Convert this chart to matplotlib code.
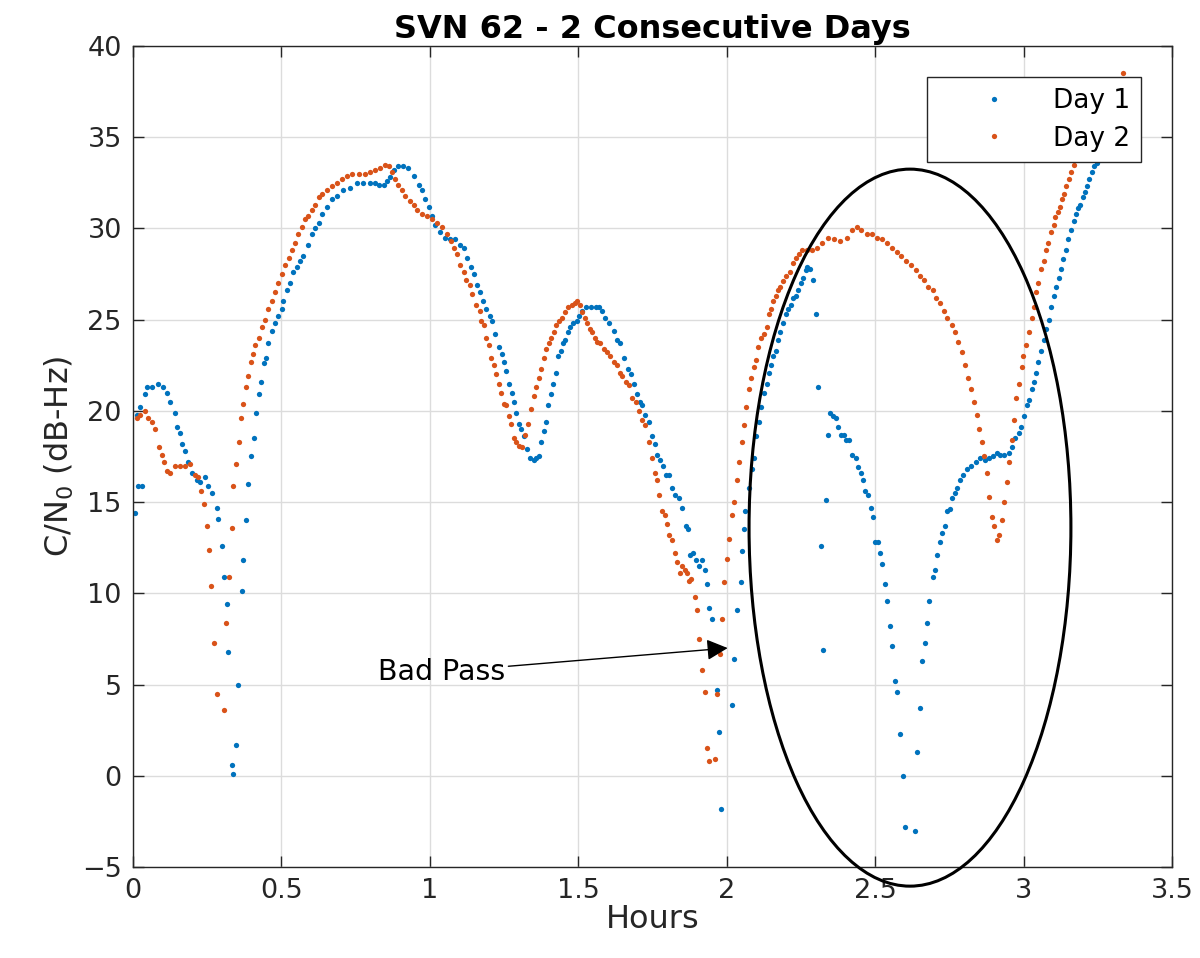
import matplotlib
matplotlib.use("Agg")
import matplotlib.pyplot as plt
from matplotlib.patches import Ellipse

# Day 1 (blue) - hours, C/N0 in dB-Hz
day1_t = [0.007, 0.012, 0.018, 0.024, 0.029, 0.040, 0.046, 0.063, 0.085, 0.100,
          0.114, 0.125, 0.142, 0.147, 0.158, 0.164, 0.175, 0.186, 0.198, 0.215,
          0.226, 0.243, 0.254, 0.265, 0.282, 0.288, 0.299, 0.305, 0.316, 0.321,
          0.333, 0.338, 0.347, 0.355, 0.366, 0.372, 0.380, 0.389, 0.397, 0.406,
          0.414, 0.423, 0.432, 0.440, 0.448, 0.456, 0.468, 0.479, 0.490, 0.501,
          0.507, 0.518, 0.529, 0.540, 0.552, 0.563, 0.574, 0.591, 0.602, 0.614,
          0.625, 0.636, 0.653, 0.670, 0.687, 0.709, 0.732, 0.754, 0.776, 0.799,
          0.816, 0.827, 0.844, 0.855, 0.866, 0.878, 0.894, 0.911, 0.928, 0.945,
          0.962, 0.973, 0.984, 0.996, 1.007, 1.018, 1.035, 1.052, 1.069, 1.086,
          1.102, 1.114, 1.125, 1.139, 1.150, 1.159, 1.170, 1.179, 1.190, 1.201,
          1.209, 1.220, 1.234, 1.243, 1.248, 1.258, 1.267, 1.277, 1.282, 1.291,
          1.300, 1.308, 1.316, 1.327, 1.336, 1.350, 1.359, 1.366, 1.375, 1.383,
          1.391, 1.398, 1.407, 1.416, 1.425, 1.432, 1.440, 1.447, 1.456, 1.464,
          1.473, 1.482, 1.494, 1.501, 1.513, 1.527, 1.541, 1.558, 1.569, 1.580,
          1.591, 1.603, 1.619, 1.630, 1.642, 1.653, 1.667, 1.676, 1.687, 1.698,
          1.709, 1.715, 1.723, 1.737, 1.749, 1.757, 1.766, 1.775, 1.786, 1.794,
          1.805, 1.816, 1.827, 1.839, 1.850, 1.861, 1.869, 1.875, 1.887, 1.897,
          1.908, 1.915, 1.925, 1.932, 1.940, 1.949, 1.966, 1.973, 1.981, 2.016,
          2.024, 2.034, 2.047, 2.052, 2.058, 2.063, 2.075, 2.084, 2.091, 2.100,
          2.108, 2.116, 2.125, 2.134, 2.142, 2.150, 2.157, 2.165, 2.172, 2.180,
          2.190, 2.198, 2.207, 2.215, 2.223, 2.232, 2.241, 2.249, 2.258, 2.266,
          2.271, 2.279, 2.292, 2.302, 2.307, 2.316, 2.325, 2.333, 2.341, 2.348,
          2.358, 2.368, 2.375, 2.384, 2.395, 2.403, 2.412, 2.421, 2.434, 2.442,
          2.451, 2.459, 2.466, 2.476, 2.485, 2.493, 2.500, 2.509, 2.516, 2.524,
          2.532, 2.541, 2.550, 2.558, 2.566, 2.572, 2.584, 2.592, 2.600, 2.633,
          2.641, 2.651, 2.659, 2.667, 2.675, 2.681, 2.693, 2.701, 2.708, 2.717,
          2.726, 2.734, 2.743, 2.752, 2.760, 2.768, 2.777, 2.786, 2.797, 2.808,
          2.822, 2.839, 2.853, 2.869, 2.884, 2.898, 2.910, 2.921, 2.934, 2.949,
          2.960, 2.971, 2.983, 2.991, 3.002, 3.011, 3.019, 3.027, 3.034, 3.041,
          3.049, 3.058, 3.067, 3.075, 3.084, 3.092, 3.101, 3.109, 3.118, 3.125,
          3.134, 3.142, 3.150, 3.159, 3.168, 3.176, 3.184, 3.191, 3.199, 3.206,
          3.213, 3.221, 3.229, 3.238, 3.246, 3.255]
day1_cn = [14.4, 19.8, 15.9, 20.2, 15.9, 20.9, 21.3, 21.3, 21.5, 21.3,
           21.0, 20.5, 19.9, 19.1, 18.8, 18.2, 17.8, 17.2, 16.6, 16.2,
           16.1, 16.4, 15.9, 15.5, 14.7, 14.1, 12.6, 10.9, 9.4, 6.8,
           0.6, 0.1, 1.7, 5.0, 10.1, 11.8, 14.0, 16.0, 17.5, 18.5,
           19.9, 20.9, 21.6, 22.6, 22.9, 23.7, 24.4, 24.8, 25.2, 25.6,
           26.0, 26.6, 27.0, 27.6, 27.9, 28.2, 28.5, 29.1, 29.7, 30.0,
           30.3, 30.8, 31.2, 31.6, 31.8, 32.1, 32.2, 32.5, 32.5, 32.5,
           32.5, 32.4, 32.4, 32.6, 32.8, 33.2, 33.4, 33.4, 33.3, 32.9,
           32.4, 32.1, 31.6, 31.2, 30.7, 30.2, 29.8, 29.5, 29.4, 29.4,
           29.1, 28.9, 28.4, 27.9, 27.5, 26.9, 26.5, 26.0, 25.6, 25.2,
           24.9, 24.2, 23.5, 23.1, 22.7, 22.2, 21.5, 21.0, 20.5, 19.9,
           19.3, 19.0, 18.6, 17.9, 17.4, 17.3, 17.4, 17.5, 18.3, 18.9,
           19.4, 20.3, 20.9, 21.5, 22.1, 23.0, 23.3, 23.7, 23.9, 24.3,
           24.6, 24.8, 24.9, 25.2, 25.5, 25.7, 25.7, 25.7, 25.7, 25.5,
           25.1, 24.8, 24.4, 23.9, 23.7, 22.9, 22.3, 22.0, 21.5, 20.9,
           20.5, 20.3, 19.8, 19.4, 18.6, 18.2, 17.6, 17.3, 17.0, 16.5,
           16.5, 15.8, 15.4, 15.2, 14.7, 13.7, 13.5, 12.1, 12.2, 11.8,
           11.5, 11.8, 11.3, 10.5, 9.2, 8.6, 4.7, 2.4, -1.8, 3.9,
           6.4, 9.1, 10.6, 12.3, 13.5, 14.5, 15.8, 16.8, 17.4, 18.6,
           19.4, 20.2, 21.0, 21.5, 22.1, 22.5, 23.0, 23.3, 23.9, 24.3,
           24.8, 25.3, 25.6, 25.8, 26.2, 26.3, 26.6, 27.0, 27.3, 27.7,
           27.9, 27.8, 27.2, 25.3, 21.3, 12.6, 6.9, 15.1, 18.7, 19.9,
           19.7, 19.6, 19.1, 18.7, 18.7, 18.4, 18.4, 17.6, 17.4, 16.9,
           16.6, 16.2, 15.6, 15.4, 14.7, 14.2, 12.8, 12.8, 12.2, 11.6,
           10.5, 9.6, 8.2, 7.1, 5.2, 4.6, 2.3, 0.0, -2.8, -3.0,
           1.3, 3.7, 6.3, 7.3, 8.4, 9.6, 10.9, 11.3, 12.1, 12.8,
           13.3, 13.7, 14.5, 14.6, 15.2, 15.5, 15.8, 16.2, 16.5, 16.8,
           17.0, 17.2, 17.4, 17.3, 17.4, 17.5, 17.7, 17.6, 17.6, 17.7,
           18.0, 18.5, 18.8, 19.1, 19.7, 20.3, 20.6, 21.2, 21.6, 22.1,
           22.7, 23.3, 23.9, 24.5, 25.0, 25.7, 26.3, 26.8, 27.3, 27.8,
           28.3, 28.8, 29.4, 29.9, 30.4, 30.8, 31.1, 31.3, 31.7, 32.0,
           32.3, 32.7, 33.1, 33.4, 33.6, 34.0]

# Day 2 (orange)
day2_t = [0.012, 0.024, 0.040, 0.052, 0.063, 0.074, 0.089, 0.097, 0.106, 0.114,
          0.125, 0.142, 0.158, 0.175, 0.192, 0.209, 0.220, 0.229, 0.239, 0.248,
          0.256, 0.263, 0.273, 0.282, 0.305, 0.314, 0.324, 0.333, 0.338, 0.347,
          0.356, 0.365, 0.372, 0.380, 0.389, 0.397, 0.404, 0.411, 0.423, 0.434,
          0.445, 0.456, 0.468, 0.479, 0.490, 0.501, 0.512, 0.524, 0.535, 0.546,
          0.557, 0.569, 0.580, 0.591, 0.602, 0.614, 0.625, 0.636, 0.653, 0.670,
          0.687, 0.704, 0.720, 0.737, 0.760, 0.782, 0.799, 0.816, 0.833, 0.850,
          0.861, 0.872, 0.883, 0.894, 0.906, 0.917, 0.932, 0.945, 0.956, 0.973,
          0.990, 1.007, 1.024, 1.041, 1.058, 1.071, 1.080, 1.091, 1.102, 1.114,
          1.123, 1.134, 1.142, 1.156, 1.168, 1.173, 1.181, 1.190, 1.199, 1.206,
          1.215, 1.224, 1.232, 1.241, 1.248, 1.258, 1.265, 1.274, 1.282, 1.291,
          1.300, 1.311, 1.322, 1.331, 1.341, 1.350, 1.359, 1.366, 1.375, 1.383,
          1.392, 1.400, 1.409, 1.417, 1.426, 1.434, 1.445, 1.454, 1.466, 1.477,
          1.488, 1.496, 1.505, 1.513, 1.522, 1.530, 1.539, 1.547, 1.555, 1.563,
          1.574, 1.586, 1.597, 1.608, 1.619, 1.630, 1.640, 1.648, 1.659, 1.670,
          1.681, 1.693, 1.704, 1.715, 1.726, 1.737, 1.749, 1.757, 1.766, 1.773,
          1.783, 1.792, 1.799, 1.807, 1.816, 1.824, 1.833, 1.841, 1.850, 1.858,
          1.867, 1.872, 1.880, 1.893, 1.901, 1.906, 1.917, 1.925, 1.934, 1.940,
          1.960, 1.968, 1.976, 1.983, 1.991, 2.002, 2.009, 2.016, 2.024, 2.033,
          2.041, 2.050, 2.058, 2.064, 2.076, 2.083, 2.091, 2.097, 2.106, 2.116,
          2.125, 2.134, 2.142, 2.150, 2.157, 2.165, 2.172, 2.180, 2.190, 2.201,
          2.213, 2.224, 2.232, 2.243, 2.254, 2.271, 2.288, 2.305, 2.322, 2.341,
          2.361, 2.381, 2.404, 2.423, 2.440, 2.453, 2.471, 2.490, 2.507, 2.524,
          2.541, 2.558, 2.572, 2.586, 2.603, 2.620, 2.637, 2.651, 2.665, 2.678,
          2.693, 2.704, 2.719, 2.730, 2.743, 2.757, 2.768, 2.779, 2.792, 2.803,
          2.813, 2.822, 2.833, 2.842, 2.850, 2.858, 2.867, 2.876, 2.884, 2.892,
          2.901, 2.910, 2.917, 2.926, 2.934, 2.943, 2.952, 2.959, 2.968, 2.974,
          2.985, 2.993, 2.999, 3.007, 3.019, 3.027, 3.034, 3.041, 3.049, 3.058,
          3.067, 3.075, 3.083, 3.092, 3.101, 3.106, 3.114, 3.122, 3.129, 3.137,
          3.142, 3.151, 3.159, 3.168, 3.333]
day2_cn = [19.6, 19.8, 20.0, 19.6, 19.4, 19.0, 18.0, 17.6, 17.2, 16.7,
           16.6, 17.0, 17.0, 17.0, 17.1, 16.5, 16.4, 15.6, 14.9, 13.7,
           12.4, 10.4, 7.3, 4.5, 3.6, 8.4, 10.9, 13.6, 15.9, 17.1,
           18.3, 19.6, 20.4, 21.3, 21.9, 22.7, 23.1, 23.6, 24.0, 24.6,
           25.0, 25.6, 26.0, 26.5, 27.0, 27.5, 28.0, 28.4, 28.8, 29.2,
           29.7, 30.1, 30.5, 30.7, 31.0, 31.3, 31.7, 31.9, 32.1, 32.3,
           32.5, 32.7, 32.9, 33.0, 33.0, 33.0, 33.1, 33.2, 33.3, 33.5,
           33.4, 33.1, 32.7, 32.4, 32.1, 31.8, 31.5, 31.3, 31.0, 30.8,
           30.7, 30.5, 30.3, 30.1, 29.7, 29.3, 28.9, 28.6, 28.0, 27.6,
           27.2, 26.9, 26.4, 25.8, 25.5, 24.9, 24.7, 24.0, 23.6, 22.9,
           22.5, 22.0, 21.5, 21.0, 20.4, 20.3, 19.7, 19.3, 18.5, 18.3,
           18.1, 18.0, 18.7, 19.3, 20.1, 20.8, 21.3, 21.8, 22.3, 22.9,
           23.4, 23.7, 24.0, 24.3, 24.7, 24.9, 25.1, 25.4, 25.7, 25.8,
           25.9, 26.0, 25.8, 25.4, 25.1, 24.8, 24.5, 24.3, 24.0, 23.8,
           23.7, 23.4, 23.2, 23.0, 22.7, 22.5, 22.1, 21.9, 21.6, 21.4,
           20.7, 20.5, 20.0, 19.5, 19.2, 18.3, 17.4, 16.6, 16.2, 15.4,
           14.5, 14.3, 13.8, 13.2, 12.9, 12.2, 11.7, 11.1, 11.5, 11.3,
           11.1, 10.7, 10.8, 9.8, 9.1, 7.5, 5.8, 4.6, 1.5, 0.8,
           0.9, 4.5, 6.7, 8.6, 10.6, 11.9, 13.0, 14.3, 15.0, 16.2,
           17.2, 18.3, 19.2, 20.2, 21.2, 21.8, 22.4, 22.8, 23.5, 24.0,
           24.2, 24.6, 25.3, 25.6, 26.0, 26.3, 26.6, 26.8, 27.1, 27.4,
           27.6, 28.1, 28.4, 28.6, 28.8, 28.8, 28.8, 28.9, 29.2, 29.5,
           29.4, 29.3, 29.5, 29.9, 30.1, 29.9, 29.7, 29.7, 29.5, 29.4,
           29.2, 28.9, 28.7, 28.5, 28.2, 28.0, 27.7, 27.4, 27.2, 26.8,
           26.6, 26.2, 25.9, 25.5, 25.1, 24.7, 24.3, 23.8, 23.2, 22.5,
           21.8, 21.2, 20.5, 19.8, 19.0, 18.3, 17.5, 16.6, 15.3, 14.2,
           13.7, 12.9, 13.2, 14.0, 15.0, 16.1, 17.2, 18.4, 19.5, 20.7,
           21.5, 22.4, 23.0, 23.6, 24.3, 25.1, 25.7, 26.5, 27.0, 27.8,
           28.2, 28.8, 29.2, 29.8, 30.2, 30.6, 30.9, 31.2, 31.6, 31.9,
           32.3, 32.7, 33.1, 33.5, 38.5]

blue = "#0072BD"
orange = "#D95319"
dark = "#262626"

fig = plt.figure(figsize=(12, 9.58), dpi=100)
ax = fig.add_axes([0.1108, 0.095, 0.866, 0.857])

ax.plot(day1_t, day1_cn, "o", ms=3.8, mec="none", color=blue, label="Day 1")
ax.plot(day2_t, day2_cn, "o", ms=3.8, mec="none", color=orange, label="Day 2")

ax.set_xlim(0, 3.5)
ax.set_ylim(-5, 40)
ax.set_xticks([0, 0.5, 1, 1.5, 2, 2.5, 3, 3.5])
ax.set_xticklabels(["0", "0.5", "1", "1.5", "2", "2.5", "3", "3.5"])
ax.set_yticks(range(-5, 41, 5))
ax.grid(True, color="#dcdcdc", lw=1)
ax.set_axisbelow(True)
ax.tick_params(direction="in", length=8, width=1, top=True, right=True,
               labelsize=19.5, colors=dark, pad=8)
for s in ax.spines.values():
    s.set_color(dark)
    s.set_linewidth(1)

ax.set_title("SVN 62 - 2 Consecutive Days", fontsize=23, fontweight="bold", pad=6)
ax.set_xlabel("Hours", fontsize=23, color=dark, labelpad=0)
ax.set_ylabel("C/N$_0$ (dB-Hz)", fontsize=23, color=dark, labelpad=4)

# ellipse round the bad pass, allowed to run past the bottom axis
ell = Ellipse((2.617, 13.6), 1.084, 39.3, fill=False, ec="black", lw=2.2,
              clip_on=False, zorder=5)
ax.add_patch(ell)

ax.annotate("Bad Pass", xy=(2.003, 7.0), xytext=(1.255, 5.7),
            ha="right", va="center", fontsize=20.5, color="black",
            arrowprops=dict(arrowstyle="-|>", color="black", lw=1,
                            mutation_scale=32, shrinkA=0, shrinkB=0))

leg = ax.legend(loc="upper right", bbox_to_anchor=(0.970, 0.962), fontsize=19,
                fancybox=False, framealpha=1, edgecolor=dark, borderaxespad=0,
                handlelength=4.3, handletextpad=0.1, borderpad=0.4,
                labelspacing=0.45)
leg.get_frame().set_linewidth(1)

fig.savefig("out.png", dpi=100)
